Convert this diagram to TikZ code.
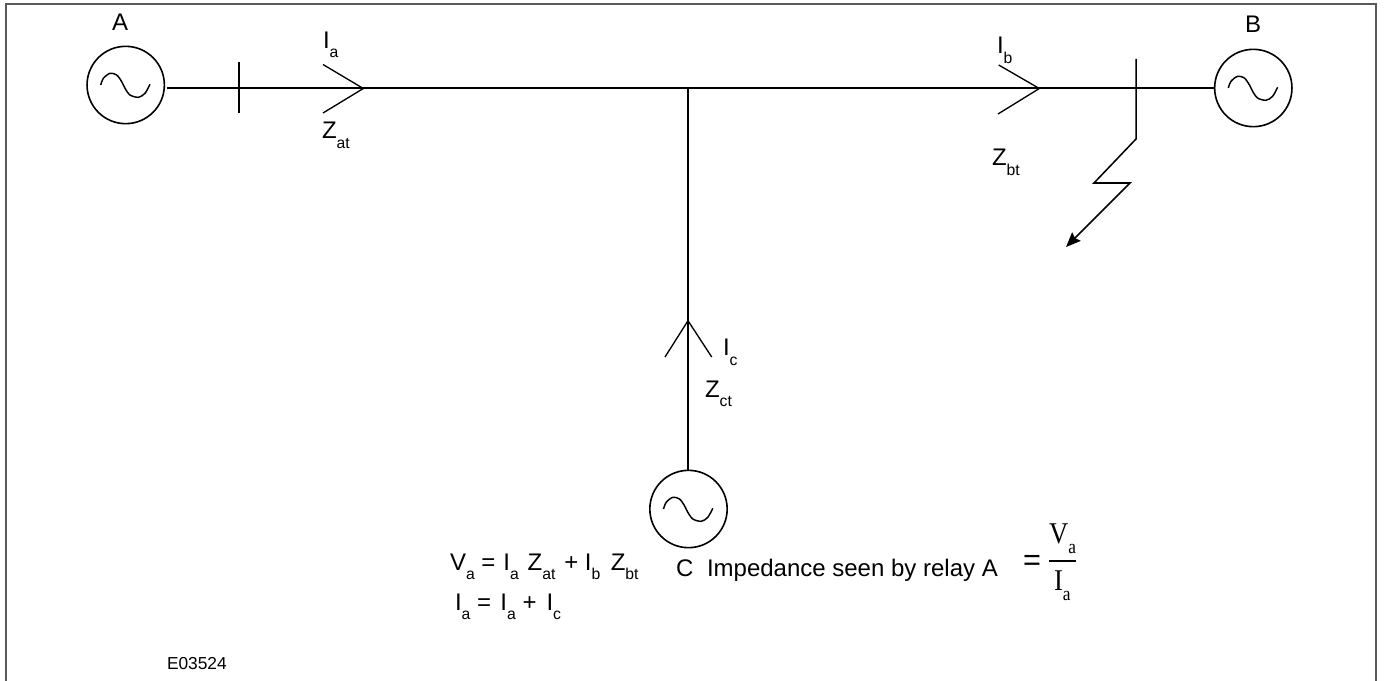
\documentclass[tikz,border=0pt]{standalone}
\usepackage{fontspec}
\usepackage{graphicx}
\setmainfont{Liberation Sans}
\newfontfamily\fracfont{Liberation Serif}
\usetikzlibrary{arrows.meta}
\newcommand\sbx[1]{\raisebox{-7pt}{\fontsize{11.8pt}{12pt}\selectfont #1}}
\newcommand\sbf[1]{\raisebox{-7pt}{\fontsize{13pt}{14pt}\selectfont #1}}
\tikzset{
  framed/.style={draw=black!65,line width=1.6pt},
  mainline/.style={draw=black,line width=1.5pt},
  thinline/.style={draw=black,line width=1pt},
  faultline/.style={draw=black,line width=1.15pt},
  gen/.style={circle,draw=black,line width=1.2pt,minimum size=58pt,inner sep=0pt},
  wave/.style={draw=black,line width=1.1pt},
  lbl/.style={anchor=base west,inner sep=0pt,outer sep=0pt,font=\fontsize{18pt}{20pt}\selectfont},
  small/.style={anchor=base west,inner sep=0pt,outer sep=0pt,font=\fontsize{13pt}{15pt}\selectfont},
  bigeq/.style={anchor=base west,inner sep=0pt,outer sep=0pt,font=\fontsize{23pt}{25pt}\selectfont},
  fracl/.style={anchor=base west,inner sep=0pt,outer sep=0pt,font=\fracfont\fontsize{20pt}{22pt}\selectfont},
}
\newcommand\sinewave[1]{\draw[wave,shift={(#1)}] plot[smooth] coordinates {(-25,0) (-22.3,-6.7) (-15.7,-11.7) (-9,-10) (-4,-3.3) (-0.7,3.3) (4.3,10) (12.7,12.3) (19.3,8.3) (24.3,-0.7)};}
\begin{document}
\begin{tikzpicture}[x=0.75pt,y=-0.75pt]
\useasboundingbox (0,0) rectangle (1384,681);
\coordinate (fa) at (6,681); \coordinate (fb) at (6,4);
\coordinate (fc) at (1376,4); \coordinate (fd) at (1376,681);
\draw[framed] (fa) -- (fb) -- (fc) -- (fd);
% generators
\node[gen] (genA) at (125.7,85) {};
\node[gen] (genB) at (1253.3,88) {};
\node[gen] (genC) at (688.5,509) {};
\sinewave{125.7,85}
\sinewave{1253.3,88}
\sinewave{688.5,509}
% bus
\coordinate (start) at (167,88.4);
\coordinate (junc) at (688,88.4);
\coordinate (stop) at (genB.west |- junc);
\draw[mainline] (start) -- (junc) -- (stop);
\draw[mainline] (junc) -- (genC.north -| junc);
% relay ticks
\coordinate (ta1) at (239,62); \coordinate (ta2) at (239,113);
\draw[thinline] (ta1) -- (ta2);
% arrows
\coordinate (a1) at (323,64.5); \coordinate (a2) at (363.3,88.5); \coordinate (a3) at (323,113);
\draw[thinline] (a1) -- (a2) -- (a3);
\coordinate (b1) at (998.7,65); \coordinate (b2) at (1039.3,88.5); \coordinate (b3) at (998,114);
\draw[thinline] (b1) -- (b2) -- (b3);
\coordinate (c1) at (665,357); \coordinate (c2) at (688,320.7); \coordinate (c3) at (711.7,357);
\draw[thinline] (c1) -- (c2) -- (c3);
% fault
\coordinate (f0) at (1136,59); \coordinate (f1) at (1136,139); \coordinate (f2) at (1094,183);
\coordinate (f3) at (1130,183); \coordinate (f4) at (1066,247);
\draw[faultline,-{Stealth[length=11pt,width=9pt,inset=1.5pt]}] (f0) -- (f1) -- (f2) -- (f3) -- (f4);
% labels
\node[lbl] (lA) at (112,30.7) {A};
\node[lbl] (lB) at (1245,32.7) {B};
\node[lbl] (lIa) at (323,48.3) {I\sbx{a}};
\node[lbl] (lZa) at (322,139) {Z\sbx{at}};
\node[lbl] (lIb) at (997,54) {I\sbx{b}};
\node[lbl] (lZb) at (992,166) {Z\sbx{bt}};
\node[lbl] (lIc) at (723,355.7) {I\sbx{c}};
\node[lbl] (lZc) at (705,397) {Z\sbx{ct}};
\node[lbl] (eq1) at (450,570.5) {V\sbx{a} =\kern1pt{} I\sbx{a}\kern1.6pt{} Z\sbx{at}\kern1.6pt{} + I\sbx{b}\kern2.8pt{} Z\sbx{bt}};
\node[lbl] (eq2) at (455,610) {I\sbx{a} =\kern2pt{} I\sbx{a} +\kern2.5pt{} I\sbx{c}};
\node[lbl] (lC) at (676,576.7) {C};
\node[lbl] (imp) at (707,576.7) {Impedance seen by relay A};
\node[small] (code) at (167,669) {E03524};
% fraction
\node[bigeq] (feq) at (1023,570) {=};
\node[fracl] (fV) at (1049,543) {\scalebox{1}[1.13]{V\sbf{a}}};
\node[fracl] (fI) at (1054,590) {\scalebox{1}[1.13]{I\sbf{a}}};
\coordinate (bar1) at (1049,561); \coordinate (bar2) at (1076,561);
\draw[mainline] (bar1) -- (bar2);
\end{tikzpicture}
\end{document}
